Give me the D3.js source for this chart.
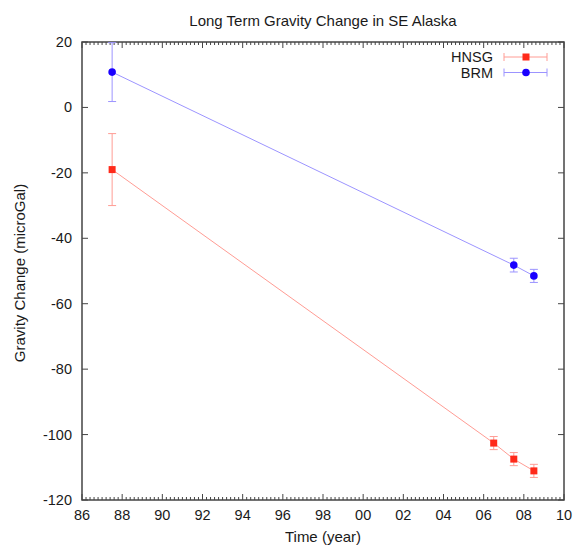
<!DOCTYPE html>
<html><head><meta charset="utf-8">
<script src="https://cdn.jsdelivr.net/npm/d3@7"></script>
<style>body{margin:0;background:#fff}svg{font-family:"Liberation Sans",Arial,sans-serif}</style>
</head><body><svg id="c" width="575" height="547"></svg>
<script>
const hnsgYears = [87.5, 106.5, 107.5, 108.5];
const hnsgValues = [-19, -102.6, -107.5, -111.1];
const hnsgErrors = [11, 2, 2, 2];
const brmYears = [87.5, 107.5, 108.5];
const brmValues = [10.8, -48.2, -51.5];
const brmErrors = [9, 2.1, 2];
const xTicks = [86, 88, 90, 92, 94, 96, 98, 100, 102, 104, 106, 108, 110];
const xTickLabels = ["86","88","90","92","94","96","98","00","02","04","06","08","10"];
const yTicks = [20, 0, -20, -40, -60, -80, -100, -120];

const svg = d3.select("#c");
const L = 82, R = 564, T = 42, B = 500;
const x = d3.scaleLinear().domain([86, 110]).range([L, R]);
const y = d3.scaleLinear().domain([-120, 20]).range([B, T]);
const axisColor = "#444";
const textColor = "#1a1a1a";

svg.append("defs").append("clipPath").attr("id","clip")
  .append("rect").attr("x",L).attr("y",T).attr("width",R-L).attr("height",B-T);

// ticks
const minor = d3.range(86, 110.001, 0.2).filter(v => Math.abs(v/2 - Math.round(v/2)) > 1e-6);
const g = svg.append("g").attr("stroke", axisColor).attr("stroke-width", 1);
minor.forEach(v => {
  g.append("line").attr("x1",x(v)).attr("x2",x(v)).attr("y1",B).attr("y2",B-3);
  g.append("line").attr("x1",x(v)).attr("x2",x(v)).attr("y1",T).attr("y2",T+3);
});
xTicks.forEach(v => {
  g.append("line").attr("x1",x(v)).attr("x2",x(v)).attr("y1",B).attr("y2",B-6);
  g.append("line").attr("x1",x(v)).attr("x2",x(v)).attr("y1",T).attr("y2",T+6);
});
yTicks.forEach(v => {
  g.append("line").attr("x1",L).attr("x2",L+6).attr("y1",y(v)).attr("y2",y(v));
  g.append("line").attr("x1",R).attr("x2",R-6).attr("y1",y(v)).attr("y2",y(v));
});
svg.append("rect").attr("x",L).attr("y",T).attr("width",R-L).attr("height",B-T)
  .attr("fill","none").attr("stroke",axisColor).attr("stroke-width",1.5);

// tick labels
xTicks.forEach((v,i) => {
  svg.append("text").attr("x",x(v)).attr("y",B+20).attr("text-anchor","middle")
    .attr("font-size",14.5).attr("fill",textColor).text(xTickLabels[i]);
});
yTicks.forEach(v => {
  svg.append("text").attr("x",L-10).attr("y",y(v)+5).attr("text-anchor","end")
    .attr("font-size",14.5).attr("fill",textColor).text(v);
});

svg.append("text").attr("x",(L+R)/2).attr("y",26).attr("text-anchor","middle")
  .attr("font-size",15).attr("fill",textColor).text("Long Term Gravity Change in SE Alaska");
svg.append("text").attr("x",(L+R)/2).attr("y",542).attr("text-anchor","middle")
  .attr("font-size",15).attr("fill",textColor).text("Time (year)");
svg.append("text").attr("transform",`translate(25,${(T+B)/2 + 2}) rotate(-90)`).attr("text-anchor","middle")
  .attr("font-size",15).attr("fill",textColor).text("Gravity Change (microGal)");

const series = [
  {name:"HNSG", xs:hnsgYears, ys:hnsgValues, es:hnsgErrors, dark:"#ff2a1a", light:"#ff9c94", shape:"square"},
  {name:"BRM", xs:brmYears, ys:brmValues, es:brmErrors, dark:"#1a00ff", light:"#9c94ff", shape:"circle"}
];
const plot = svg.append("g").attr("clip-path","url(#clip)");
const line = d3.line().x(d=>x(d[0])).y(d=>y(d[1]));
function marker(sel, s, cx, cy){
  if (s.shape==="square") sel.append("rect").attr("x",cx-3.5).attr("y",cy-3.5).attr("width",7).attr("height",7).attr("fill",s.dark);
  else sel.append("circle").attr("cx",cx).attr("cy",cy).attr("r",3.8).attr("fill",s.dark);
}
series.forEach(s => {
  const pts = s.xs.map((v,i)=>[v, s.ys[i]]);
  plot.append("path").attr("d", line(pts)).attr("fill","none").attr("stroke",s.light).attr("stroke-width",1);
  pts.forEach((p,i) => {
    const cx = x(p[0]), y1 = y(p[1]+s.es[i]), y2 = y(p[1]-s.es[i]);
    plot.append("line").attr("x1",cx).attr("x2",cx).attr("y1",y1).attr("y2",y2).attr("stroke",s.light);
    plot.append("line").attr("x1",cx-4).attr("x2",cx+4).attr("y1",y1).attr("y2",y1).attr("stroke",s.light);
    plot.append("line").attr("x1",cx-4).attr("x2",cx+4).attr("y1",y2).attr("y2",y2).attr("stroke",s.light);
    marker(plot, s, cx, y(p[1]));
  });
});

// legend
series.forEach((s,i) => {
  const ly = 57 + i*15.5;
  svg.append("text").attr("x",493).attr("y",ly+5).attr("text-anchor","end")
    .attr("font-size",14.5).attr("fill",textColor).text(s.name);
  svg.append("line").attr("x1",504).attr("x2",547).attr("y1",ly).attr("y2",ly).attr("stroke",s.light);
  [504,547].forEach(cx => svg.append("line").attr("x1",cx).attr("x2",cx).attr("y1",ly-4).attr("y2",ly+4).attr("stroke",s.light));
  marker(svg, s, 526, ly);
});
</script></body></html>
